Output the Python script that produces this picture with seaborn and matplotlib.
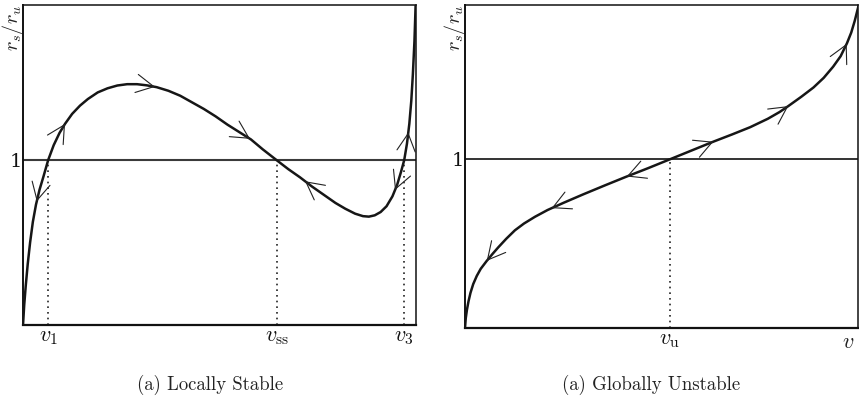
import numpy as np
import pandas as pd
import matplotlib
matplotlib.use("Agg")
import matplotlib.pyplot as plt
import seaborn as sns

# ---------------- data ----------------
# Left panel: locally stable curve  r_s/r_u vs v
stable_v = [0.000, 0.003, 0.007, 0.012, 0.018, 0.025, 0.033, 0.042, 0.052, 0.064,
            0.078, 0.093, 0.107, 0.125, 0.145, 0.165, 0.190, 0.215, 0.240, 0.265,
            0.290, 0.315, 0.340, 0.370, 0.400, 0.430, 0.460, 0.490, 0.520, 0.550,
            0.580, 0.610, 0.645, 0.675, 0.705, 0.735, 0.765, 0.795, 0.820, 0.845,
            0.865, 0.880, 0.895, 0.910, 0.925, 0.940, 0.952, 0.962, 0.970, 0.977,
            0.983, 0.988, 0.992, 0.996, 0.999]
stable_r = [0.00, 0.12, 0.24, 0.37, 0.50, 0.625, 0.73, 0.82, 0.90, 1.00,
            1.09, 1.165, 1.22, 1.28, 1.33, 1.37, 1.41, 1.435, 1.452, 1.46,
            1.46, 1.453, 1.442, 1.42, 1.39, 1.35, 1.31, 1.265, 1.215, 1.17,
            1.125, 1.065, 1.00, 0.945, 0.895, 0.84, 0.79, 0.74, 0.705, 0.675,
            0.66, 0.657, 0.665, 0.685, 0.72, 0.78, 0.85, 0.93, 1.00, 1.10,
            1.22, 1.36, 1.52, 1.72, 1.94]
stable_cross = [0.0644, 0.6455, 0.9695]
stable_ticklabels = [r"$v_1$", r"$v_{\rm ss}$", r"$v_3$"]
stable_arrow_v = [0.0349, 0.1069, 0.3359, 0.5776, 0.7176, 0.9466, 0.9804]
stable_arrow_dir = [-1, 1, 1, 1, -1, -1, 1]

# Right panel: globally unstable curve
unstable_v = [0.000, 0.002, 0.005, 0.009, 0.014, 0.021, 0.030, 0.040, 0.055, 0.070,
              0.085, 0.105, 0.127, 0.150, 0.178, 0.210, 0.250, 0.300, 0.356, 0.410,
              0.466, 0.521, 0.576, 0.631, 0.680, 0.725, 0.770, 0.800, 0.822, 0.855,
              0.886, 0.912, 0.936, 0.955, 0.971, 0.982, 0.991, 1.000]
unstable_r = [0.00, 0.06, 0.11, 0.16, 0.21, 0.262, 0.31, 0.352, 0.398, 0.44,
              0.48, 0.53, 0.58, 0.62, 0.66, 0.70, 0.742, 0.792, 0.846, 0.897,
              0.948, 1.00, 1.052, 1.104, 1.148, 1.19, 1.24, 1.28, 1.315, 1.37,
              1.425, 1.482, 1.548, 1.61, 1.686, 1.75, 1.82, 1.903]
unstable_cross = [0.5212]
unstable_ticklabels = [r"$v_{\rm u}$"]
unstable_arrow_v = [0.0552, 0.2204, 0.4112, 0.6313, 0.822, 0.9705]
unstable_arrow_dir = [-1, -1, -1, 1, 1, 1]

captions = ["(a) Locally Stable", "(a) Globally Unstable"]
ylabel = r"$r_s/r_u$"

# ---------------- style ----------------
sns.set_theme(style="white")
plt.rcParams["mathtext.fontset"] = "cm"
plt.rcParams["font.family"] = ["DejaVu Serif"]

fig = plt.figure(figsize=(8.59, 3.98), dpi=100)
axL = fig.add_axes([0.0268, 0.1834, 0.4575, 0.8040])
axR = fig.add_axes([0.5413, 0.1751, 0.4579, 0.8123])

panels = [
    (axL, stable_v, stable_r, stable_cross, stable_ticklabels, stable_arrow_v, stable_arrow_dir, 1.94, "#3a3a3a", 1.5),
    (axR, unstable_v, unstable_r, unstable_cross, unstable_ticklabels, unstable_arrow_v, unstable_arrow_dir, 1.913, "#111111", 1.2),
]

for ax, xs, ys, cross, tlabels, av, adir, ytop, hcol, hlw in panels:
    df = pd.DataFrame({"v": xs, "r": ys})
    sns.lineplot(data=df, x="v", y="r", ax=ax, color="#161616", lw=1.8,
                 sort=False, estimator=None, zorder=3)
    ax.lines[-1].set_solid_joinstyle("round")
    ax.axhline(1.0, color=hcol, lw=hlw, zorder=2)
    ax.vlines(cross, 0, 1.0, colors="#222222", lw=1.2, linestyles=(0, (1, 2.4)), zorder=1)
    ax.set_xlim(0, 1)
    ax.set_ylim(0, ytop)
    ax.set_xticks(cross)
    ax.set_xticklabels(tlabels)
    ax.set_yticks([1.0])
    ax.set_yticklabels(["1"])
    ax.tick_params(axis="both", length=0, colors="#111111")
    ax.tick_params(axis="x", pad=0, labelsize=16)
    ax.tick_params(axis="y", pad=1, labelsize=14)
    ax.set_xlabel("")
    ax.set_ylabel(ylabel, fontsize=14.5, color="#222222", loc="top")
    ax.yaxis.label.set_va("center")
    ax.yaxis.set_label_coords(-0.026, 1.0)
    for s in ax.spines.values():
        s.set_visible(True)
        s.set_color("#111111")
        s.set_linewidth(1.1)
    ax.spines["bottom"].set_linewidth(1.6)
    ax.spines["left"].set_linewidth(1.4)

    # chevron arrows along the curve
    fig.canvas.draw()
    pts = ax.transData.transform(np.column_stack([xs, ys]))
    seg = np.hypot(np.diff(pts[:, 0]), np.diff(pts[:, 1]))
    s_cum = np.concatenate([[0], np.cumsum(seg)])
    for x0, d in zip(av, adir):
        y0 = np.interp(x0, xs, ys)
        p0 = ax.transData.transform((x0, y0))
        i = np.searchsorted(xs, x0) - 1
        i = max(0, min(i, len(xs) - 2))
        s0 = s_cum[i] + np.hypot(*(p0 - pts[i]))
        sb = s0 - 6 * d
        bx = np.interp(sb, s_cum, pts[:, 0])
        by = np.interp(sb, s_cum, pts[:, 1])
        pb = ax.transData.inverted().transform((bx, by))
        ax.annotate("", xy=(x0, y0), xytext=(pb[0], pb[1]),
                    arrowprops=dict(arrowstyle="->,head_length=1.05,head_width=0.55",
                                    lw=0.8, color="#222222", shrinkA=0, shrinkB=0),
                    zorder=4)

axR.set_xlabel(r"$v$", fontsize=16, color="#222222")
axR.xaxis.set_label_coords(0.975, -0.008)
axR.xaxis.label.set_va("top")

fig.text(0.2445, 0.032, captions[0], ha="center", va="center", family="cmr10",
         fontsize=13.5, color="#222222")
fig.text(0.7585, 0.032, captions[1], ha="center", va="center", family="cmr10",
         fontsize=13.5, color="#222222")

fig.savefig("out.png", dpi=100)
